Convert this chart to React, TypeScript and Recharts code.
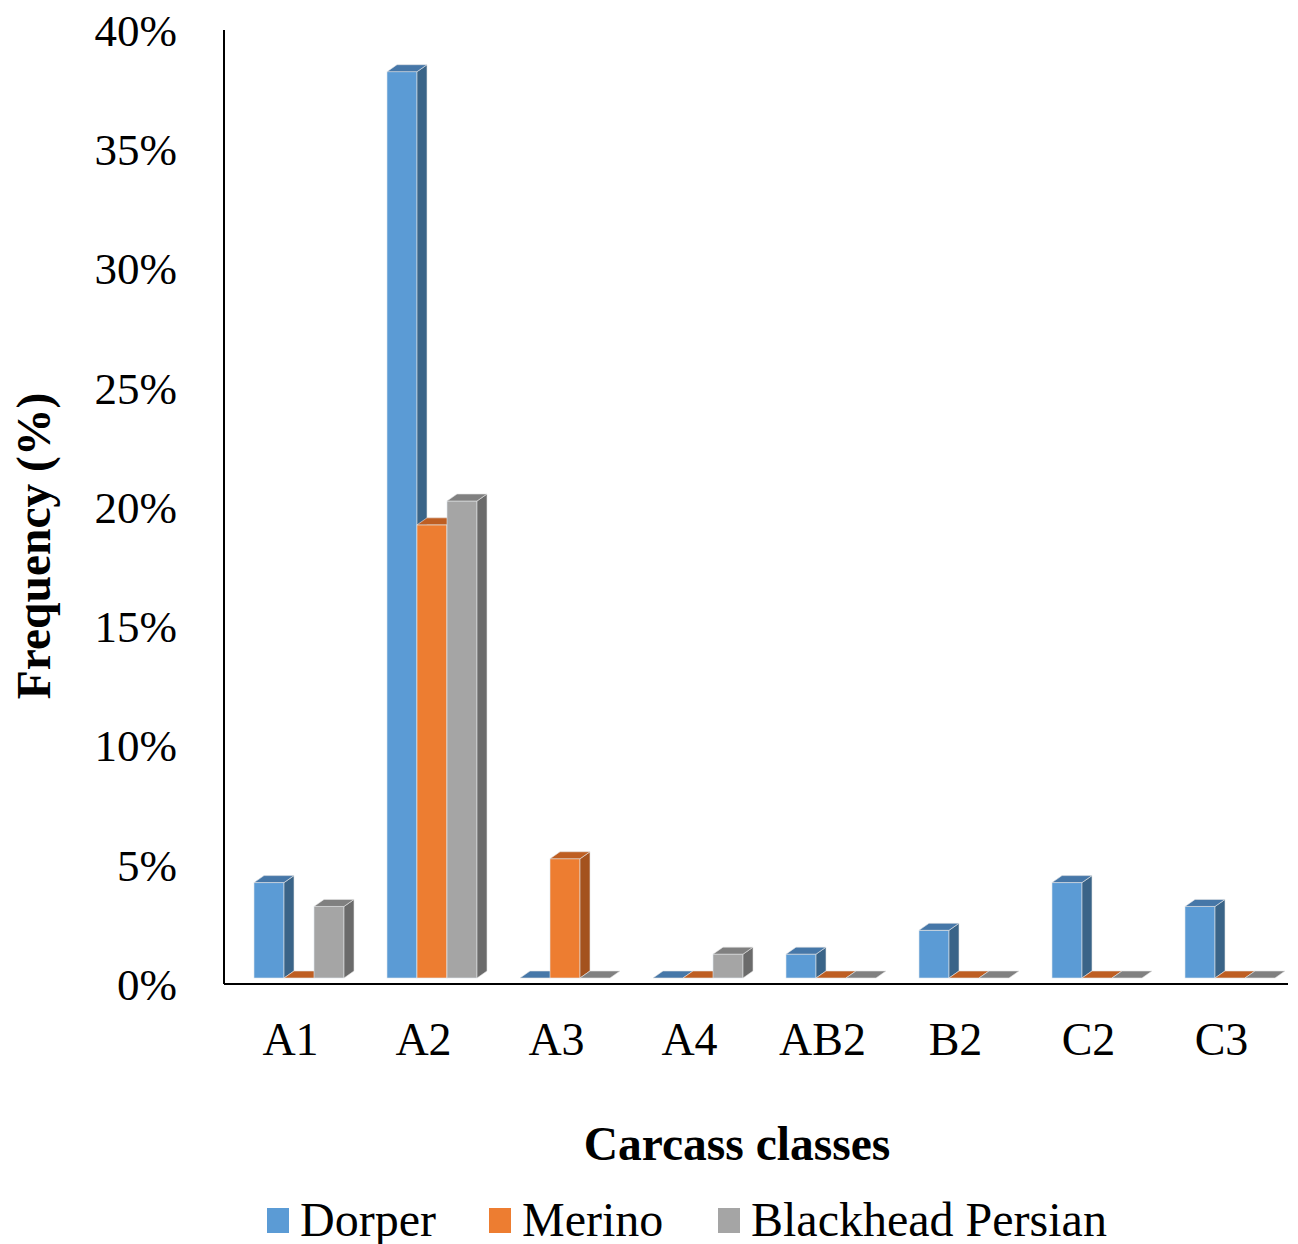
import React from 'react';
import { BarChart, Bar, XAxis, YAxis, Legend } from 'recharts';

const categories = ['A1', 'A2', 'A3', 'A4', 'AB2', 'B2', 'C2', 'C3'];
const dorper = [4, 38, 0, 0, 1, 2, 4, 3];
const merino = [0, 19, 5, 0, 0, 0, 0, 0];
const blackheadPersian = [3, 20, 0, 1, 0, 0, 0, 0];
const yTicks = [0, 5, 10, 15, 20, 25, 30, 35, 40];

const seriesNames = ['Dorper', 'Merino', 'Blackhead Persian'];

const data = categories.map((c, i) => ({
  category: c,
  Dorper: dorper[i],
  Merino: merino[i],
  'Blackhead Persian': blackheadPersian[i],
}));

const FONT = "'Liberation Serif', 'Times New Roman', serif";

type Pal = { front: string; top: string; side: string };
const palettes: Pal[] = [
  { front: '#5B9BD5', top: '#4677A8', side: '#3A6488' },
  { front: '#ED7D31', top: '#BE5E22', side: '#A4521E' },
  { front: '#A5A5A5', top: '#808080', side: '#6B6B6B' },
];

const legendSquareX = [267, 489, 718];

const make3D = (pal: Pal) => (props: any) => {
  const x = Number(props.x) || 0;
  const y = Number(props.y) || 0;
  const w = Number(props.width) || 0;
  const h = Number(props.height) || 0;
  const shift = 8;
  const floor = 6;
  const dx = 10;
  const dy = 7;
  const fx = x + shift;
  const bottom = y + h - floor;
  const top = y - floor;
  if (h < 0.5) {
    const pts = `${fx},${bottom} ${fx + w},${bottom} ${fx + w + dx},${bottom - dy} ${fx + dx},${bottom - dy}`;
    return <polygon points={pts} fill={pal.top} stroke="#e4e4e4" strokeWidth={0.6} />;
  }
  const topPts = `${fx},${top} ${fx + w},${top} ${fx + w + dx},${top - dy} ${fx + dx},${top - dy}`;
  const sidePts = `${fx + w},${top} ${fx + w + dx},${top - dy} ${fx + w + dx},${bottom - dy} ${fx + w},${bottom}`;
  return (
    <g>
      <rect x={fx} y={top} width={w} height={bottom - top} fill={pal.front} stroke="#dfe6ee" strokeWidth={0.6} />
      <polygon points={sidePts} fill={pal.side} stroke="#e4e4e4" strokeWidth={0.6} />
      <polygon points={topPts} fill={pal.top} stroke="#e4e4e4" strokeWidth={0.6} />
    </g>
  );
};

const renderLegend = () => (
  <div style={{ position: 'relative', width: 1298, height: 56, fontFamily: FONT, fontSize: 48, color: '#000' }}>
    {seriesNames.map((n, i) => (
      <div key={n} style={{ position: 'absolute', left: legendSquareX[i], top: 0, height: 56, display: 'flex', alignItems: 'center', whiteSpace: 'nowrap' }}>
        <div style={{ width: 22, height: 25, background: palettes[i].front, marginRight: 11 }} />
        <span style={{ lineHeight: '56px' }}>{n}</span>
      </div>
    ))}
  </div>
);

export default function App() {
  return (
    <div style={{ position: 'absolute', left: 0, top: 0, background: '#fff' }}>
      <BarChart
        width={1298}
        height={1244}
        data={data}
        margin={{ top: 30, right: 10, bottom: 104, left: 0 }}
        barGap={0}
        barSize={30}
      >
        <XAxis
          dataKey="category"
          axisLine={{ stroke: '#000', strokeWidth: 2 }}
          tickLine={false}
          tickSize={0}
          tickMargin={38}
          height={100}
          tick={{ fill: '#000', fontSize: 46, fontFamily: FONT }}
          interval={0}
          label={{
            content: () => (
              <text x={737} y={1160} textAnchor="middle" fontFamily={FONT} fontSize={47.5} fontWeight="bold" fill="#000">
                Carcass classes
              </text>
            ),
          }}
        />
        <YAxis
          domain={[0, 40]}
          ticks={yTicks}
          width={224}
          axisLine={{ stroke: '#000', strokeWidth: 2 }}
          tickLine={false}
          tickSize={0}
          tickMargin={47}
          tickFormatter={(v: number) => `${v}%`}
          tick={{ fill: '#000', fontSize: 45, fontFamily: FONT }}
          label={{
            content: () => (
              <text
                x={34}
                y={546}
                transform="rotate(-90 34 546)"
                textAnchor="middle"
                dominantBaseline="central"
                fontFamily={FONT}
                fontSize={47.5}
                fontWeight="bold"
                fill="#000"
              >
                Frequency (%)
              </text>
            ),
          }}
        />
        <Legend
          content={renderLegend}
          wrapperStyle={{ position: 'absolute', top: 1192, left: 0, width: 1298, height: 56 }}
        />
        {seriesNames.map((n, i) => (
          <Bar key={n} dataKey={n} isAnimationActive={false} fill={palettes[i].front} shape={make3D(palettes[i])} />
        ))}
      </BarChart>
    </div>
  );
}
